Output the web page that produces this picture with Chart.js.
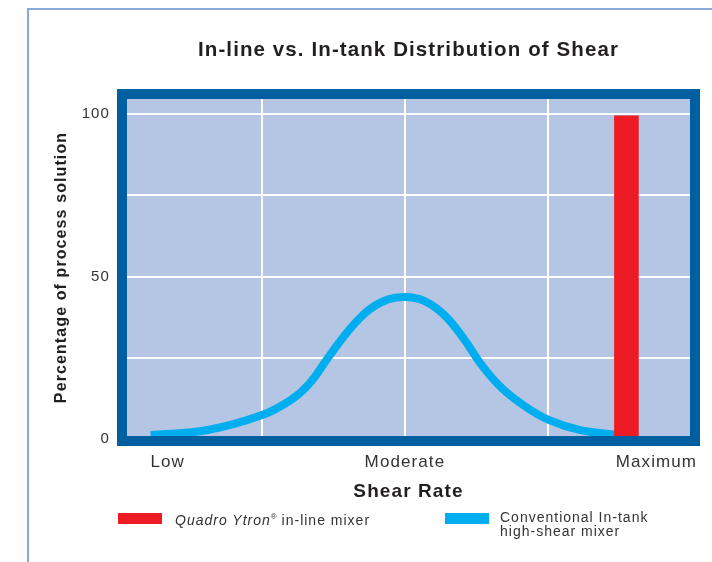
<!DOCTYPE html>
<html lang="en">
<head>
  <meta charset="UTF-8">
  <title>In-line vs. In-tank Distribution of Shear</title>
  <style>
    body { margin: 0; background: #fff; overflow: hidden; }
    .wrap { position: relative; width: 712px; height: 562px; }
    .frame {
      position: absolute; left: 27px; top: 8px; width: 720px; height: 600px;
      border-top: 2px solid #86aad9; border-left: 2px solid #86aad9;
    }
    canvas { position: absolute; left: 0; top: 0; }
    .key { position: absolute; width: 44px; height: 11px; }
    .txt {
      position: absolute; font-family: 'Liberation Sans', Arial, sans-serif;
      font-size: 14px; line-height: 14px; letter-spacing: 1px; color: #333;
    }
    .txt sup { font-size: 8px; letter-spacing: 0; }
  </style>
</head>
<body>
  <div class="wrap">
    <div class="frame"></div>
    <canvas id="grafico" width="712" height="562"></canvas>
    <div class="key" style="left:118px;top:513px;background:#ed1c24"></div>
    <div class="txt" style="left:175px;top:510px"><i>Quadro Ytron</i><sup>®</sup> in-line mixer</div>
    <div class="key" style="left:445px;top:513px;background:#00aeef"></div>
    <div class="txt" style="left:500px;top:510px">Conventional In-tank<br>high-shear mixer</div>
  </div>

  <script src="https://cdn.jsdelivr.net/npm/chart.js"></script>
  <script>
    // categories on the shear-rate axis
    const xLabels = ['Low', 'Moderate', 'Maximum'];
    const xLabelPos = [0.34, 2, 3.76];
    const xGridPos = [1, 2, 3];

    // y ticks
    const yTicks = [0, 25, 50, 75, 100];
    const yLabeled = [0, 50, 100];

    // conventional in-tank mixer (bell curve)
    const curveX = [0.22, 0.62, 1.0, 1.2, 1.33, 1.47, 1.61, 1.75, 1.88, 2.0, 2.13, 2.27, 2.41, 2.54, 2.68, 2.85, 3.01, 3.22, 3.47];
    const curveY = [1.2, 2.8, 7.4, 12.0, 17.0, 25.5, 33.6, 39.8, 42.9, 43.7, 42.6, 38.4, 31.0, 22.6, 15.6, 9.8, 5.8, 2.8, 1.3];

    // Quadro Ytron in-line mixer
    const barX = [3.55];
    const barY = [99.4];

    const fam = "'Liberation Sans', Arial, sans-serif";
    const spacing = '1.1px';

    const plotFrame = {
      id: 'plotFrame',
      beforeUpdate(chart) { chart.ctx.letterSpacing = spacing; },
      beforeDraw(chart) {
        const { ctx, chartArea: a } = chart;
        ctx.letterSpacing = spacing;
        ctx.save();
        ctx.fillStyle = '#b4c6e3';
        ctx.fillRect(a.left, a.top, a.width, a.height);
        ctx.restore();
      },
      afterDatasetsDraw(chart) {
        const { ctx, chartArea: a } = chart;
        ctx.save();
        ctx.strokeStyle = '#005fa1';
        ctx.lineWidth = 10;
        ctx.strokeRect(a.left, a.top, a.width, a.height);
        ctx.restore();
      }
    };

    new Chart(document.getElementById('grafico'), {
      type: 'line',
      data: {
        datasets: [
          {
            type: 'bar',
            label: 'Quadro Ytron® in-line mixer',
            data: barX.map((x, i) => ({ x, y: barY[i] })),
            backgroundColor: '#ed1c24',
            borderWidth: 0,
            barThickness: 24
          },
          {
            type: 'line',
            label: 'Conventional In-tank high-shear mixer',
            data: curveX.map((x, i) => ({ x, y: curveY[i] })),
            borderColor: '#00aeef',
            borderWidth: 8,
            pointRadius: 0,
            fill: false,
            tension: 0.4
          }
        ]
      },
      options: {
        responsive: false,
        animation: false,
        layout: { padding: { left: 40, right: 17, top: 0, bottom: 59 } },
        plugins: {
          legend: { display: false },
          tooltip: { enabled: false },
          title: {
            display: true,
            text: 'In-line vs. In-tank Distribution of Shear',
            fullSize: false,
            color: '#231f20',
            font: { family: fam, size: 20.5, weight: 'bold' },
            padding: { top: 38, bottom: 31.4 }
          }
        },
        scales: {
          x: {
            type: 'linear',
            min: 0.02,
            max: 4.03,
            offset: false,
            afterBuildTicks: s => {
              const vals = [...new Set([...xGridPos, ...xLabelPos])].sort((a, b) => a - b);
              s.ticks = vals.map(v => ({ value: v }));
            },
            ticks: {
              autoSkip: false,
              maxRotation: 0,
              padding: 11,
              color: '#333',
              font: { family: fam, size: 17 },
              callback: v => {
                const i = xLabelPos.indexOf(v);
                return i >= 0 ? xLabels[i] : '';
              }
            },
            grid: {
              color: c => (c.tick && xGridPos.includes(c.tick.value)) ? '#ffffff' : 'rgba(0,0,0,0)',
              lineWidth: 2,
              drawTicks: false,
              offset: false
            },
            border: { display: false },
            title: {
              display: true,
              text: 'Shear Rate',
              color: '#231f20',
              font: { family: fam, size: 19, weight: 'bold' },
              padding: { top: 0, bottom: 0 }
            },
            afterFit: s => { s.height = 62; s.paddingLeft = 0; s.paddingRight = 0; }
          },
          y: {
            min: -0.6,
            max: 106.15,
            afterBuildTicks: s => { s.ticks = yTicks.map(v => ({ value: v })); },
            ticks: {
              padding: 12,
              color: '#333',
              font: { family: fam, size: 15 },
              callback: v => yLabeled.includes(v) ? String(v) : ''
            },
            grid: { color: '#ffffff', lineWidth: 2, drawTicks: false },
            border: { display: false },
            title: {
              display: true,
              text: 'Percentage of process solution',
              color: '#231f20',
              font: { family: fam, size: 16, weight: 'bold' },
              padding: { top: 12.4, bottom: 0 }
            },
            afterFit: s => { s.width = 82; s.paddingTop = 0; s.paddingBottom = 0; }
          }
        }
      },
      plugins: [plotFrame]
    });
  </script>
</body>
</html>
